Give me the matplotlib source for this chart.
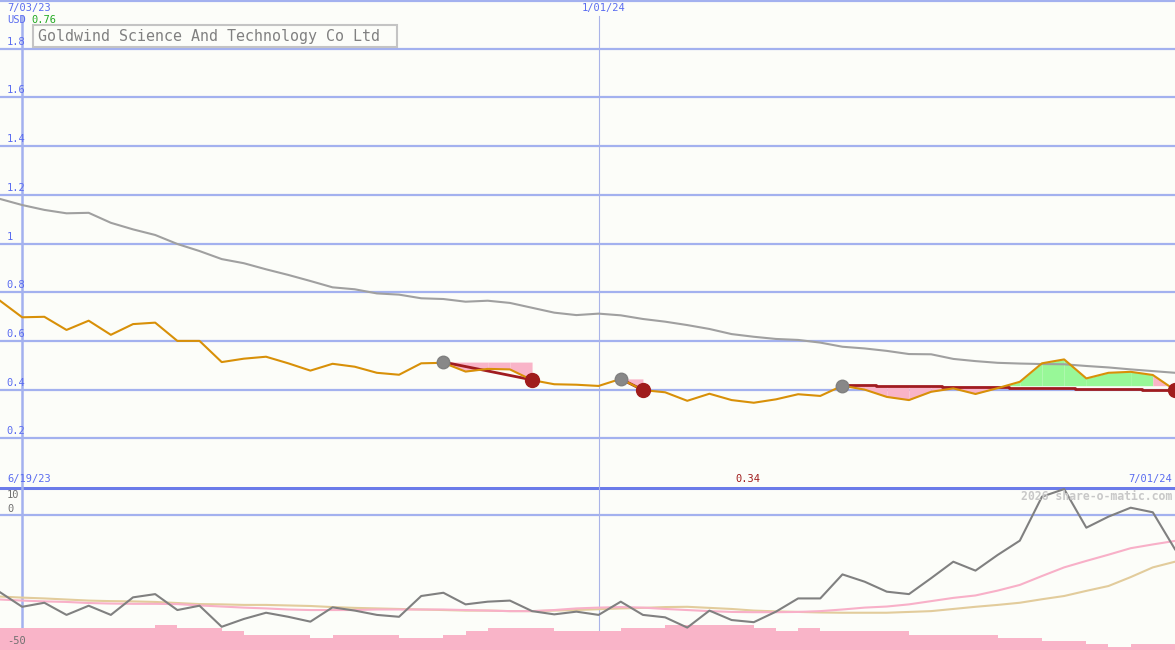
import numpy as np
import matplotlib
matplotlib.use('Agg')
import matplotlib.pyplot as plt
from matplotlib.patches import Rectangle

# weekly points, week 0 = 7/03/23, week 26 = 1/01/24
weeks = np.arange(-1, 53)

close = [0.765, 0.697, 0.699, 0.645, 0.683, 0.625, 0.669, 0.675, 0.600, 0.600,
         0.513, 0.527, 0.535, 0.508, 0.478, 0.506, 0.494, 0.469, 0.461, 0.508,
         0.510, 0.474, 0.485, 0.483, 0.439, 0.422, 0.420, 0.415, 0.444, 0.398,
         0.389, 0.354, 0.383, 0.357, 0.346, 0.360, 0.381, 0.374, 0.416, 0.400,
         0.370, 0.357, 0.391, 0.405, 0.382, 0.406, 0.432, 0.508, 0.524, 0.446,
         0.469, 0.473, 0.460, 0.398]

ma = [1.183, 1.158, 1.138, 1.124, 1.126, 1.085, 1.058, 1.035, 0.998, 0.969,
      0.936, 0.919, 0.894, 0.871, 0.846, 0.820, 0.812, 0.795, 0.790, 0.775,
      0.772, 0.761, 0.765, 0.756, 0.736, 0.716, 0.706, 0.712, 0.705, 0.690,
      0.679, 0.665, 0.649, 0.628, 0.617, 0.608, 0.604, 0.593, 0.576, 0.569,
      0.559, 0.546, 0.545, 0.526, 0.517, 0.510, 0.507, 0.505, 0.504, 0.497,
      0.491, 0.483, 0.476, 0.469]

osc = [-28.6, -34.0, -32.5, -37.0, -33.6, -37.0, -30.5, -29.3, -35.2, -33.6,
       -41.4, -38.5, -36.2, -37.7, -39.5, -34.2, -35.4, -37.0, -37.7, -30.0,
       -28.8, -33.1, -32.1, -31.7, -35.6, -36.8, -35.8, -37.0, -32.1, -37.0,
       -37.9, -41.7, -35.4, -38.9, -39.7, -35.8, -30.9, -30.9, -22.0, -24.7,
       -28.4, -29.3, -23.4, -17.3, -20.6, -14.8, -9.5, 6.8, 9.6, -4.7,
       -0.6, 2.7, 1.0, -12.7]

sig_fast = [-31.3, -31.7, -32.0, -32.2, -32.6, -32.8, -32.9, -32.9, -33.0, -33.5,
            -33.9, -34.3, -34.6, -35.0, -35.2, -35.2, -35.2, -35.0, -35.0, -35.0,
            -35.0, -35.2, -35.4, -35.6, -35.6, -35.2, -34.6, -34.3, -34.1, -34.3,
            -34.8, -35.2, -35.6, -35.9, -36.0, -36.0, -35.9, -35.6, -35.0, -34.3,
            -33.9, -33.1, -31.9, -30.7, -29.8, -28.0, -25.9, -22.6, -19.4, -17.0,
            -14.7, -12.3, -10.9, -9.6]

sig_slow = [-30.2, -30.6, -30.9, -31.3, -31.7, -31.9, -32.0, -32.2, -32.6, -33.0,
            -33.1, -33.3, -33.3, -33.5, -33.7, -34.1, -34.4, -34.6, -34.8, -35.0,
            -35.2, -35.4, -35.4, -35.6, -35.6, -35.4, -35.2, -34.9, -34.6, -34.4,
            -34.1, -34.0, -34.4, -34.8, -35.4, -35.7, -35.9, -36.1, -36.2, -36.2,
            -36.2, -35.9, -35.6, -34.8, -34.0, -33.3, -32.5, -31.2, -30.0, -28.1,
            -26.3, -23.0, -19.4, -17.3]

vol = [-41.7] * 7 + [-40.7] + [-41.7] * 2 + [-43.0] + [-44.4] * 3 + [-45.4] + \
      [-44.4] * 3 + [-45.4] * 2 + [-44.4] + [-43.0] + [-41.7] * 3 + [-43.0] * 3 + \
      [-41.7] * 2 + [-40.7] * 4 + [-41.7] + [-43.0] + [-41.7] + [-43.0] * 4 + \
      [-44.4] * 4 + [-45.5] * 2 + [-46.7] * 2 + [-47.8] + [-48.8] + [-47.8] * 2

entry_wk = [19, 27, 37]
exit_wk = [23, 28, 52]
entry_px = [0.513, 0.444, 0.416]
exit_px = [0.440, 0.398, 0.398]
stop_x = [[19, 23], [27, 28], [37, 38.5, 41.5, 44.5, 47.5, 50.5, 52]]
stop_y = [[0.513, 0.440], [0.444, 0.398], [0.420, 0.416, 0.412, 0.408, 0.402, 0.398, 0.398]]

price_ticks = [0.2, 0.4, 0.6, 0.8, 1.0, 1.2, 1.4, 1.6, 1.8]

bg = '#fcfdf9'
grid_c = '#a3b1ef'
blue_txt = '#5a6cf0'
mono = 'DejaVu Sans Mono'

W, H = 1175, 650
fig = plt.figure(figsize=(W / 100, H / 100), dpi=100, facecolor=bg)
ax1 = fig.add_axes([0, 163 / H, 1, 487 / H])
ax2 = fig.add_axes([0, 0, 1, 163 / H])
x = np.array(weeks, dtype=float)
for ax in (ax1, ax2):
    ax.set_facecolor(bg)
    ax.set_xlim(-1, 52)
    ax.axis('off')
ax1.set_ylim(0, 2.0)
ax2.set_ylim(-50, 10.37)

# price panel grid
for v in price_ticks:
    ax1.axhline(v, color=grid_c, lw=1.6, zorder=0.5)
    ax1.text(-0.69, v + 0.008, f'{v:g}', color=blue_txt, fontsize=7.5,
             family=mono, va='bottom', ha='left')
ax1.axhline(2.0, color=grid_c, lw=3, zorder=0.5)
ax1.plot([0, 0], [0, 1.934], color=grid_c, lw=1.8, zorder=0.5)
ax1.plot([26, 26], [0, 1.934], color='#aab4e8', lw=0.8, zorder=0.5)

ax1.plot(x, ma, color='#a0a0a0', lw=1.5, zorder=2)

close_a = np.array(close)
for i in range(len(entry_wk)):
    lvl = entry_px[i]
    for w in range(entry_wk[i], exit_wk[i]):
        j = w + 1
        col = '#98f898' if close_a[j + 1] > lvl else '#f9b4c8'
        ax1.fill_between(x[j:j + 2], lvl, close_a[j:j + 2], color=col, lw=0, zorder=1)
    ds = 'steps-post' if len(stop_x[i]) > 2 else 'default'
    ax1.plot(stop_x[i], stop_y[i], color='#a01c20', lw=2, drawstyle=ds, zorder=3)

ax1.plot(x, close, color='#d89008', lw=1.5, zorder=4)
ax1.plot(entry_wk, entry_px, 'o', color='#888888', ms=9, mec='#808080', zorder=5)
ax1.plot(exit_wk, exit_px, 'o', color='#a01c1c', ms=10, zorder=5)

# lower panel
ax2.axhline(0, color=grid_c, lw=1.6, zorder=0.5)
ax2.axhline(10.1, color='#6b7be9', lw=2.2, zorder=0.5)
ax2.axvline(0, color=grid_c, lw=1.8, zorder=0.5)
ax2.axvline(26, color='#aab4e8', lw=0.8, zorder=0.5)
ax2.bar(x[:-1], np.array(vol) + 50, bottom=-50, width=1.0, align='edge',
        color='#f9b4c8', lw=0, zorder=1)
ax2.plot(x, sig_slow, color='#e2cc9c', lw=1.5, zorder=2)
ax2.plot(x, sig_fast, color='#f8b0c8', lw=1.5, zorder=2)
ax2.plot(x, osc, color='#808080', lw=1.5, zorder=3)


def ftext(px, py, s, **kw):
    kw.setdefault('family', mono)
    kw.setdefault('fontsize', 7.5)
    fig.text(px / W, 1 - py / H, s, va='center', **kw)


ftext(7, 8, '7/03/23', color=blue_txt)
ftext(604, 8, '1/01/24', color=blue_txt, ha='center')
ftext(7, 20, 'USD', color=blue_txt)
ftext(31, 20, '0.76', color='#22aa22')
ftext(7, 479, '6/19/23', color=blue_txt)
ftext(1172, 479, '7/01/24', color=blue_txt, ha='right')
ftext(748, 479, '0.34', color='#a01c1c', ha='center')
ftext(7, 495, '10', color='#707070')
ftext(7, 509, '0', color='#707070')
ftext(7, 641, '-50', color='#707070')
ftext(1172, 496, '2026 share-o-matic.com', color='#c8c8c8', ha='right',
      fontsize=8.3, fontweight='bold')

fig.patches.append(Rectangle((33 / W, 1 - 47 / H), 364 / W, 22 / H,
                             transform=fig.transFigure, fc=bg, ec='#c4c4c4', lw=1.5))
ftext(38, 36.5, 'Goldwind Science And Technology Co Ltd', color='#808080',
      fontsize=10.8)

fig.savefig('out.png', dpi=100, facecolor=bg)
